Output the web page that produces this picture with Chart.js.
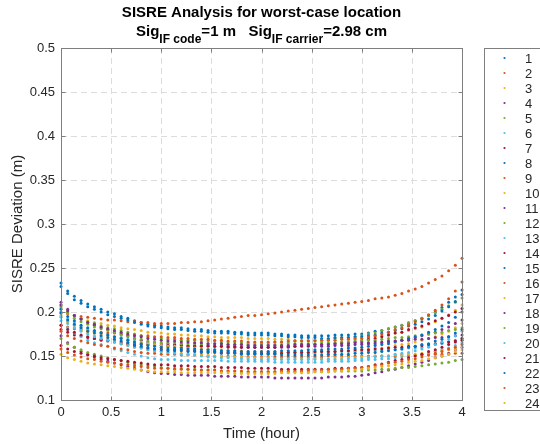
<!DOCTYPE html>
<html lang="en">
<head>
<meta charset="UTF-8">
<title>SISRE Analysis</title>
<script src="https://cdn.jsdelivr.net/npm/chart.js"></script>
<style>
  html, body { margin: 0; padding: 0; background: #fff; }
  #wrap { width: 540px; height: 444px; }
</style>
</head>
<body>
<div id="wrap"><canvas id="sisreChart" width="540" height="444"></canvas></div>
<script>
// sampling: one epoch every 4 minutes over 4 hours
const stepMinutes = 4;
const hours = Array.from({ length: 61 }, (_, i) => i * stepMinutes / 60);

const seriesNames = ['1','2','3','4','5','6','7','8','9','10','11','12',
                     '13','14','15','16','17','18','19','20','21','22','23','24'];

const titleLine1 = 'SISRE Analysis for worst-case location';
const titleLine2 = [['Sig', false], ['IF code', true], ['=1 m   Sig', false], ['IF carrier', true], ['=2.98 cm', false]];
const xLabel = 'Time (hour)';
const yLabel = 'SISRE Deviation (m)';

// SISRE deviation (m) per series
const s1 = [0.233,0.224,0.218,0.213,0.209,0.206,0.203,0.200,0.198,0.195,0.193,0.190,0.188,0.186,0.185,0.184,
  0.183,0.182,0.182,0.181,0.180,0.180,0.179,0.178,0.178,0.178,0.177,0.177,0.176,0.176,0.176,
  0.176,0.175,0.175,0.174,0.174,0.173,0.173,0.173,0.173,0.173,0.174,0.174,0.174,0.175,0.175,
  0.176,0.178,0.179,0.181,0.183,0.185,0.187,0.190,0.193,0.196,0.200,0.205,0.211,0.217,0.225];
const s2 = [0.200,0.198,0.196,0.195,0.194,0.193,0.192,0.191,0.191,0.190,0.189,0.189,0.188,0.188,0.187,0.187,
  0.187,0.187,0.188,0.188,0.189,0.189,0.190,0.191,0.192,0.193,0.194,0.195,0.196,0.196,0.197,
  0.198,0.199,0.200,0.201,0.202,0.203,0.204,0.205,0.206,0.207,0.208,0.209,0.210,0.211,0.212,
  0.213,0.215,0.216,0.217,0.219,0.221,0.224,0.226,0.229,0.233,0.237,0.241,0.247,0.253,0.261];
const s3 = [0.204,0.199,0.195,0.193,0.190,0.188,0.187,0.185,0.184,0.182,0.181,0.180,0.179,0.177,0.177,0.176,
  0.175,0.175,0.174,0.174,0.173,0.173,0.172,0.172,0.171,0.171,0.171,0.171,0.170,0.170,0.170,
  0.170,0.169,0.169,0.169,0.168,0.168,0.168,0.168,0.168,0.168,0.168,0.169,0.169,0.169,0.170,
  0.171,0.172,0.173,0.174,0.176,0.177,0.179,0.181,0.183,0.186,0.189,0.193,0.197,0.202,0.208];
const s4 = [0.211,0.203,0.196,0.192,0.188,0.185,0.182,0.180,0.177,0.175,0.173,0.170,0.168,0.166,0.165,0.164,
  0.164,0.163,0.163,0.162,0.162,0.162,0.162,0.161,0.161,0.161,0.161,0.160,0.160,0.160,0.160,
  0.160,0.160,0.160,0.160,0.161,0.161,0.161,0.161,0.161,0.161,0.162,0.162,0.162,0.163,0.163,
  0.164,0.164,0.165,0.166,0.167,0.168,0.170,0.171,0.173,0.175,0.177,0.180,0.183,0.187,0.191];
const s5 = [0.208,0.201,0.196,0.192,0.189,0.187,0.184,0.182,0.181,0.179,0.177,0.175,0.173,0.172,0.171,0.170,
  0.169,0.169,0.168,0.168,0.168,0.167,0.167,0.167,0.166,0.166,0.166,0.165,0.165,0.165,0.165,
  0.165,0.166,0.166,0.166,0.167,0.167,0.167,0.168,0.168,0.169,0.170,0.170,0.171,0.172,0.173,
  0.175,0.176,0.179,0.181,0.183,0.185,0.188,0.190,0.193,0.196,0.199,0.203,0.207,0.211,0.216];
const s6 = [0.199,0.192,0.188,0.184,0.181,0.178,0.176,0.174,0.172,0.171,0.169,0.167,0.165,0.164,0.163,0.162,
  0.161,0.160,0.160,0.159,0.158,0.158,0.157,0.156,0.156,0.156,0.155,0.155,0.154,0.154,0.154,
  0.154,0.154,0.154,0.154,0.154,0.154,0.154,0.154,0.154,0.154,0.155,0.155,0.155,0.155,0.155,
  0.155,0.156,0.156,0.157,0.157,0.158,0.159,0.159,0.160,0.161,0.163,0.164,0.166,0.168,0.170];
const s7 = [0.180,0.177,0.174,0.173,0.171,0.170,0.169,0.168,0.167,0.166,0.165,0.164,0.163,0.163,0.162,0.162,
  0.162,0.162,0.162,0.161,0.161,0.161,0.161,0.161,0.161,0.160,0.160,0.160,0.160,0.160,0.160,
  0.160,0.160,0.161,0.161,0.161,0.162,0.162,0.163,0.163,0.164,0.164,0.165,0.165,0.166,0.167,
  0.169,0.170,0.172,0.174,0.176,0.177,0.180,0.182,0.184,0.187,0.190,0.193,0.196,0.200,0.204];
const s8 = [0.229,0.221,0.214,0.210,0.206,0.203,0.200,0.197,0.195,0.193,0.191,0.188,0.186,0.184,0.183,0.182,
  0.181,0.180,0.180,0.179,0.178,0.178,0.177,0.176,0.176,0.176,0.175,0.175,0.174,0.174,0.174,
  0.174,0.173,0.173,0.172,0.172,0.171,0.171,0.171,0.170,0.170,0.171,0.171,0.171,0.172,0.172,
  0.173,0.174,0.176,0.177,0.179,0.181,0.184,0.186,0.189,0.192,0.196,0.201,0.206,0.212,0.220];
const s9 = [0.185,0.183,0.181,0.180,0.179,0.178,0.177,0.176,0.176,0.175,0.174,0.174,0.173,0.173,0.172,0.172,
  0.171,0.171,0.170,0.170,0.169,0.169,0.169,0.168,0.168,0.167,0.167,0.167,0.166,0.166,0.166,
  0.166,0.166,0.166,0.167,0.167,0.167,0.167,0.167,0.168,0.168,0.168,0.169,0.169,0.170,0.170,
  0.172,0.173,0.175,0.177,0.180,0.182,0.185,0.189,0.192,0.197,0.202,0.208,0.215,0.224,0.234];
const s10 = [0.195,0.189,0.185,0.182,0.179,0.177,0.175,0.173,0.171,0.170,0.168,0.166,0.165,0.164,0.163,0.162,
  0.161,0.161,0.160,0.159,0.159,0.158,0.158,0.157,0.157,0.156,0.156,0.156,0.155,0.155,0.155,
  0.155,0.155,0.154,0.154,0.154,0.154,0.154,0.154,0.155,0.155,0.155,0.156,0.156,0.156,0.157,
  0.158,0.159,0.159,0.160,0.162,0.163,0.164,0.166,0.168,0.170,0.172,0.175,0.178,0.182,0.187];
const s11 = [0.173,0.165,0.160,0.155,0.152,0.149,0.146,0.144,0.142,0.140,0.138,0.136,0.134,0.132,0.131,0.130,
  0.130,0.129,0.129,0.128,0.128,0.128,0.128,0.127,0.127,0.127,0.127,0.126,0.126,0.126,0.126,
  0.126,0.125,0.125,0.125,0.125,0.125,0.125,0.125,0.125,0.126,0.126,0.126,0.127,0.127,0.128,
  0.129,0.131,0.132,0.134,0.135,0.137,0.139,0.141,0.143,0.145,0.148,0.150,0.153,0.157,0.160];
const s12 = [0.206,0.199,0.193,0.189,0.186,0.183,0.181,0.179,0.177,0.174,0.172,0.170,0.169,0.167,0.166,0.165,
  0.165,0.165,0.164,0.164,0.164,0.164,0.164,0.164,0.164,0.163,0.163,0.163,0.163,0.163,0.163,
  0.163,0.163,0.163,0.164,0.164,0.164,0.164,0.164,0.165,0.165,0.165,0.166,0.166,0.167,0.167,
  0.168,0.168,0.169,0.170,0.171,0.171,0.172,0.173,0.174,0.175,0.176,0.177,0.179,0.180,0.182];
const s13 = [0.190,0.182,0.176,0.172,0.168,0.165,0.163,0.161,0.158,0.156,0.154,0.152,0.150,0.148,0.147,0.146,
  0.146,0.146,0.145,0.145,0.145,0.145,0.145,0.145,0.145,0.144,0.144,0.144,0.144,0.144,0.144,
  0.144,0.143,0.143,0.143,0.143,0.143,0.143,0.143,0.143,0.144,0.144,0.144,0.144,0.145,0.145,
  0.146,0.146,0.147,0.147,0.148,0.149,0.150,0.151,0.152,0.153,0.155,0.157,0.159,0.162,0.165];
const s14 = [0.185,0.180,0.177,0.174,0.172,0.170,0.168,0.167,0.166,0.164,0.163,0.162,0.160,0.159,0.158,0.158,
  0.157,0.157,0.157,0.156,0.156,0.155,0.155,0.155,0.154,0.154,0.154,0.153,0.153,0.153,0.153,
  0.153,0.153,0.153,0.154,0.154,0.154,0.154,0.155,0.155,0.155,0.155,0.156,0.156,0.157,0.157,
  0.157,0.158,0.158,0.159,0.160,0.160,0.161,0.161,0.162,0.163,0.164,0.165,0.166,0.167,0.168];
const s15 = [0.203,0.195,0.190,0.185,0.182,0.179,0.176,0.174,0.172,0.170,0.168,0.166,0.164,0.162,0.161,0.160,
  0.159,0.159,0.159,0.158,0.158,0.157,0.157,0.157,0.156,0.156,0.156,0.155,0.155,0.155,0.155,
  0.155,0.155,0.156,0.156,0.156,0.156,0.157,0.157,0.157,0.158,0.158,0.158,0.159,0.159,0.160,
  0.161,0.162,0.163,0.164,0.166,0.168,0.170,0.172,0.174,0.177,0.180,0.184,0.188,0.194,0.200];
const s16 = [0.178,0.173,0.170,0.167,0.165,0.163,0.162,0.161,0.159,0.158,0.157,0.155,0.154,0.153,0.153,0.152,
  0.152,0.152,0.151,0.151,0.151,0.151,0.150,0.150,0.150,0.150,0.150,0.149,0.149,0.149,0.149,
  0.149,0.149,0.149,0.149,0.149,0.149,0.149,0.149,0.149,0.150,0.150,0.150,0.150,0.150,0.150,
  0.150,0.150,0.150,0.150,0.150,0.151,0.151,0.151,0.151,0.151,0.152,0.152,0.152,0.153,0.153];
const s17 = [0.196,0.189,0.183,0.179,0.176,0.173,0.171,0.169,0.167,0.164,0.162,0.160,0.159,0.157,0.156,0.155,
  0.154,0.154,0.153,0.152,0.152,0.151,0.151,0.150,0.150,0.149,0.149,0.149,0.148,0.148,0.148,
  0.148,0.147,0.147,0.147,0.147,0.147,0.147,0.147,0.147,0.147,0.148,0.148,0.148,0.148,0.149,
  0.149,0.150,0.150,0.150,0.151,0.151,0.152,0.152,0.153,0.154,0.155,0.156,0.157,0.158,0.160];
const s18 = [0.208,0.201,0.196,0.192,0.188,0.186,0.183,0.181,0.179,0.177,0.175,0.173,0.172,0.170,0.169,0.168,
  0.167,0.167,0.166,0.166,0.165,0.165,0.164,0.164,0.164,0.163,0.163,0.163,0.162,0.162,0.162,
  0.162,0.162,0.162,0.162,0.163,0.163,0.163,0.163,0.163,0.163,0.164,0.164,0.164,0.165,0.165,
  0.165,0.166,0.166,0.167,0.167,0.168,0.168,0.169,0.169,0.170,0.171,0.171,0.172,0.173,0.174];
const s19 = [0.170,0.164,0.160,0.157,0.154,0.152,0.150,0.148,0.146,0.145,0.143,0.141,0.140,0.139,0.138,0.137,
  0.136,0.136,0.136,0.135,0.135,0.134,0.134,0.134,0.133,0.133,0.133,0.132,0.132,0.132,0.132,
  0.132,0.132,0.132,0.132,0.132,0.132,0.132,0.132,0.132,0.132,0.133,0.133,0.133,0.133,0.133,
  0.134,0.134,0.135,0.135,0.136,0.137,0.137,0.138,0.139,0.140,0.141,0.142,0.143,0.145,0.146];
const s20 = [0.194,0.187,0.182,0.178,0.175,0.172,0.170,0.168,0.166,0.164,0.162,0.160,0.159,0.157,0.156,0.155,
  0.154,0.153,0.152,0.152,0.151,0.150,0.149,0.149,0.148,0.148,0.147,0.147,0.146,0.146,0.146,
  0.146,0.146,0.146,0.146,0.146,0.146,0.146,0.146,0.146,0.146,0.146,0.146,0.147,0.147,0.147,
  0.148,0.149,0.150,0.150,0.152,0.153,0.154,0.156,0.158,0.160,0.163,0.166,0.169,0.173,0.178];
const s21 = [0.162,0.158,0.155,0.153,0.151,0.150,0.148,0.147,0.146,0.145,0.144,0.143,0.142,0.141,0.140,0.140,
  0.140,0.139,0.139,0.139,0.138,0.138,0.138,0.138,0.137,0.137,0.137,0.137,0.136,0.136,0.136,
  0.136,0.136,0.135,0.135,0.135,0.135,0.135,0.135,0.135,0.135,0.136,0.136,0.136,0.137,0.137,
  0.138,0.140,0.141,0.143,0.145,0.146,0.148,0.150,0.152,0.155,0.157,0.160,0.163,0.166,0.170];
const s22 = [0.199,0.191,0.186,0.182,0.178,0.176,0.173,0.171,0.169,0.167,0.165,0.162,0.161,0.159,0.158,0.157,
  0.156,0.156,0.156,0.155,0.155,0.154,0.154,0.154,0.153,0.153,0.153,0.152,0.152,0.152,0.152,
  0.152,0.152,0.151,0.151,0.151,0.151,0.151,0.151,0.151,0.152,0.152,0.152,0.152,0.153,0.153,
  0.154,0.154,0.155,0.156,0.157,0.158,0.160,0.161,0.163,0.164,0.167,0.169,0.172,0.176,0.180];
const s23 = [0.158,0.154,0.151,0.149,0.147,0.146,0.144,0.143,0.142,0.141,0.140,0.139,0.138,0.137,0.136,0.136,
  0.136,0.135,0.135,0.135,0.134,0.134,0.134,0.134,0.133,0.133,0.133,0.133,0.132,0.132,0.132,
  0.132,0.132,0.133,0.133,0.133,0.133,0.134,0.134,0.134,0.135,0.135,0.135,0.136,0.136,0.137,
  0.138,0.139,0.140,0.142,0.143,0.144,0.146,0.147,0.149,0.151,0.153,0.155,0.158,0.160,0.163];
const s24 = [0.152,0.148,0.146,0.144,0.142,0.141,0.140,0.139,0.138,0.137,0.136,0.135,0.134,0.133,0.132,0.132,
  0.132,0.132,0.131,0.131,0.131,0.131,0.131,0.131,0.131,0.131,0.130,0.130,0.130,0.130,0.130,
  0.130,0.130,0.131,0.131,0.131,0.131,0.131,0.132,0.132,0.132,0.133,0.133,0.134,0.134,0.135,
  0.136,0.137,0.138,0.139,0.140,0.141,0.143,0.144,0.145,0.147,0.148,0.150,0.152,0.155,0.157];

const allSeries = [s1, s2, s3, s4, s5, s6, s7, s8, s9, s10, s11, s12,
                   s13, s14, s15, s16, s17, s18, s19, s20, s21, s22, s23, s24];

// matlab default colour order
const palette = ['#0072BD', '#D95319', '#EDB120', '#7E2F8E', '#77AC30', '#4DBEEE', '#A2142F'];

const FONT = '"Liberation Sans", Arial, Helvetica, sans-serif';
const TEXT = '#262626';
const AXIS = '#7f7f7f';

const datasets = allSeries.map((vals, i) => ({
    label: seriesNames[i],
    data: vals.map((v, k) => ({ x: hours[k], y: v })),
    backgroundColor: palette[i % palette.length],
    borderColor: palette[i % palette.length],
    pointRadius: 1.5,
    pointBorderWidth: 0,
    showLine: false,
    clip: 4,
    order: allSeries.length - 1 - i   // later series on top, like matlab
}));

function line(ctx, x1, y1, x2, y2) {
    ctx.beginPath();
    ctx.moveTo(x1, y1);
    ctx.lineTo(x2, y2);
    ctx.stroke();
}

const matlabLook = {
    id: 'matlabLook',
    beforeDraw(chart) {
        const ctx = chart.ctx;
        ctx.save();
        ctx.fillStyle = '#fff';
        ctx.fillRect(0, 0, chart.width, chart.height);
        ctx.restore();
    },
    beforeDatasetsDraw(chart) {
        const { ctx, chartArea: a, scales: { x, y } } = chart;
        ctx.save();
        ctx.strokeStyle = '#dcdcdc';
        ctx.lineWidth = 1;
        ctx.setLineDash([6, 4]);
        x.ticks.forEach(t => {
            const px = Math.round(x.getPixelForValue(t.value)) + 0.5;
            line(ctx, px, a.top, px, a.bottom);
        });
        y.ticks.forEach(t => {
            const py = Math.round(y.getPixelForValue(t.value)) + 0.5;
            line(ctx, a.left, py, a.right, py);
        });
        ctx.restore();
    },
    afterDatasetsDraw(chart) {
        const { ctx, chartArea: a, scales: { x, y } } = chart;
        const L = a.left + 0.5, R = a.right + 0.5, T = a.top + 0.5, B = a.bottom + 0.5;
        ctx.save();
        ctx.setLineDash([]);
        ctx.strokeStyle = AXIS;
        ctx.lineWidth = 1;
        ctx.strokeRect(L, T, R - L, B - T);
        // inward ticks
        x.ticks.forEach(t => {
            const px = Math.round(x.getPixelForValue(t.value)) + 0.5;
            line(ctx, px, B, px, B - 4);
            line(ctx, px, T, px, T + 4);
        });
        y.ticks.forEach(t => {
            const py = Math.round(y.getPixelForValue(t.value)) + 0.5;
            line(ctx, L, py, L + 4, py);
            line(ctx, R, py, R - 4, py);
        });

        // title
        const cx = (a.left + a.right) / 2;
        ctx.fillStyle = '#000';
        ctx.textBaseline = 'alphabetic';
        ctx.textAlign = 'center';
        ctx.font = 'bold 15px ' + FONT;
        ctx.fillText(titleLine1, cx, 17);
        const mainFont = 'bold 15px ' + FONT, subFont = 'bold 12px ' + FONT;
        let total = 0;
        titleLine2.forEach(([txt, sub]) => {
            ctx.font = sub ? subFont : mainFont;
            total += ctx.measureText(txt).width;
        });
        let tx = cx - total / 2;
        ctx.textAlign = 'left';
        titleLine2.forEach(([txt, sub]) => {
            ctx.font = sub ? subFont : mainFont;
            ctx.fillText(txt, tx, sub ? 43 : 36);
            tx += ctx.measureText(txt).width;
        });

        // axis labels
        ctx.fillStyle = TEXT;
        ctx.font = '15px ' + FONT;
        ctx.textAlign = 'center';
        ctx.fillText(xLabel, cx, 438);
        ctx.save();
        ctx.translate(22, (a.top + a.bottom) / 2);
        ctx.rotate(-Math.PI / 2);
        ctx.fillText(yLabel, 0, 0);
        ctx.restore();

        // legend box
        ctx.strokeStyle = AXIS;
        ctx.strokeRect(484.5, 48.5, 80, 362);
        ctx.font = '13px ' + FONT;
        ctx.textAlign = 'left';
        ctx.textBaseline = 'middle';
        chart.data.datasets.forEach((ds, i) => {
            const ly = 58 + i * 15;
            ctx.fillStyle = ds.backgroundColor;
            ctx.beginPath();
            ctx.arc(504.5, ly, 1.1, 0, Math.PI * 2);
            ctx.fill();
            ctx.fillStyle = TEXT;
            ctx.fillText(ds.label, 525, ly + 1);
        });
        ctx.restore();
    }
};

new Chart(document.getElementById('sisreChart'), {
    type: 'scatter',
    data: { datasets },
    options: {
        responsive: false,
        animation: false,
        devicePixelRatio: 1,
        layout: { padding: { left: 0, top: 48, right: 78, bottom: 0 } },
        plugins: {
            legend: { display: false },
            tooltip: { enabled: false },
            title: { display: false }
        },
        scales: {
            x: {
                type: 'linear',
                min: 0,
                max: 4,
                grid: { display: false, drawTicks: false },
                border: { display: false },
                ticks: {
                    stepSize: 0.5,
                    padding: 5,
                    color: TEXT,
                    font: { family: FONT, size: 13 },
                    maxRotation: 0,
                    callback: v => String(+v.toFixed(2))
                },
                afterFit: s => { s.height = 44; }
            },
            y: {
                min: 0.1,
                max: 0.5,
                grid: { display: false, drawTicks: false },
                border: { display: false },
                ticks: {
                    stepSize: 0.05,
                    padding: 6,
                    color: TEXT,
                    font: { family: FONT, size: 13 },
                    callback: v => String(+v.toFixed(2))
                },
                afterFit: s => { s.width = 61; }
            }
        }
    },
    plugins: [matlabLook]
});
</script>
</body>
</html>
